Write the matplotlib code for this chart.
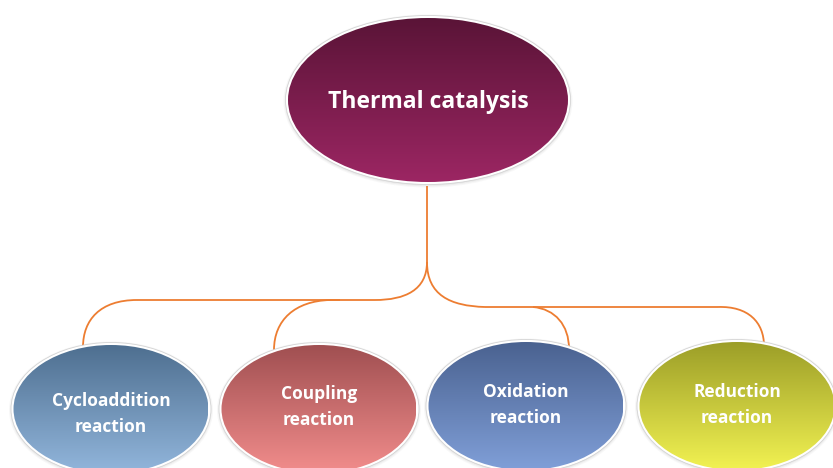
import numpy as np
import matplotlib

matplotlib.use("Agg")
import matplotlib.pyplot as plt
from matplotlib.patches import Ellipse, PathPatch
from matplotlib.path import Path
from matplotlib.colors import LinearSegmentedColormap

# node texts and fills (top colour, bottom colour)
root_label = "Thermal catalysis"
root_colors = ("#5a1437", "#9c2663")
child_labels = ["Cycloaddition\nreaction", "Coupling\nreaction", "Oxidation\nreaction", "Reduction\nreaction"]
child_colors = [("#4e6f90", "#92b6dc"), ("#a04f51", "#f28d8c"), ("#4a6290", "#809fd8"), ("#9c9e28", "#f2f252")]

W, H = 833, 468
fig = plt.figure(figsize=(W / 100, H / 100), dpi=100)
ax = fig.add_axes([0, 0, 1, 1])
ax.set_xlim(0, W)
ax.set_ylim(H, 0)
ax.axis("off")

LINE = "#ed7d31"


def curve(pts):
    # cubic bezier: start, ctrl1, ctrl2, end
    codes = [Path.MOVETO] + [Path.CURVE4] * (len(pts) - 1)
    ax.add_patch(PathPatch(Path(pts, codes), fill=False, color=LINE, lw=1.3, zorder=1))


def line(pts):
    xs, ys = zip(*pts)
    ax.plot(xs, ys, color=LINE, lw=1.3, zorder=1, solid_capstyle="butt")


# connectors
line([(427, 186), (427, 262)])
curve([(427, 262), (427, 290), (405, 300), (375, 300)])
curve([(427, 262), (427, 295), (450, 306), (485, 307)])
line([(375, 300), (137, 300)])
curve([(137, 300), (100, 300), (83, 320), (83, 347)])
line([(340, 300), (330, 300)])
curve([(330, 300), (295, 301), (274, 320), (274, 350)])
line([(485, 307), (718, 307)])
curve([(533, 307), (555, 309), (569, 325), (569, 349)])
curve([(718, 307), (748, 306), (764, 322), (764, 346)])


def node(cx, cy, w, h, colors):
    # soft shadow + white rim
    for i, a in enumerate([0.05, 0.07, 0.10]):
        pad = 9 - i * 2.5
        ax.add_patch(Ellipse((cx, cy + 1), w + pad, h + pad, color="#6e6e6e", alpha=a, lw=0, zorder=2))
    ax.add_patch(Ellipse((cx, cy), w + 5, h + 5, color="white", lw=0, zorder=3))
    ax.add_patch(Ellipse((cx, cy), w + 5, h + 5, fill=False, ec="#d4d4d4", lw=0.6, zorder=3))
    cmap = LinearSegmentedColormap.from_list("g", list(colors))
    grad = np.linspace(0, 1, 256).reshape(-1, 1)
    clip = Ellipse((cx, cy), w, h, transform=ax.transData, fc="none", lw=0)
    ax.add_patch(clip)
    im = ax.imshow(grad, cmap=cmap, aspect="auto", extent=(cx - w / 2, cx + w / 2, cy + h / 2, cy - h / 2),
                   origin="upper", zorder=4, interpolation="bilinear")
    im.set_clip_path(clip)


node(428, 100, 280, 164, root_colors)
ax.text(428, 102, root_label, ha="center", va="center", color="white", fontsize=16.5, fontweight="bold",
        family="Open Sans", zorder=5)

child_pos = [(111, 409), (319, 409), (526, 406), (737, 406)]
child_text_y = [414, 407, 405, 405]
for (cx, cy), ty, c, lab in zip(child_pos, child_text_y, child_colors, child_labels):
    node(cx, cy, 195, 128, c)
    ax.text(cx, ty, lab, ha="center", va="center", color="white", fontsize=12.5, fontweight="bold",
            family="Open Sans", linespacing=1.6, zorder=5)

ax.set_xlim(0, W)
ax.set_ylim(H, 0)
fig.savefig("out.png", dpi=100, facecolor="white")
